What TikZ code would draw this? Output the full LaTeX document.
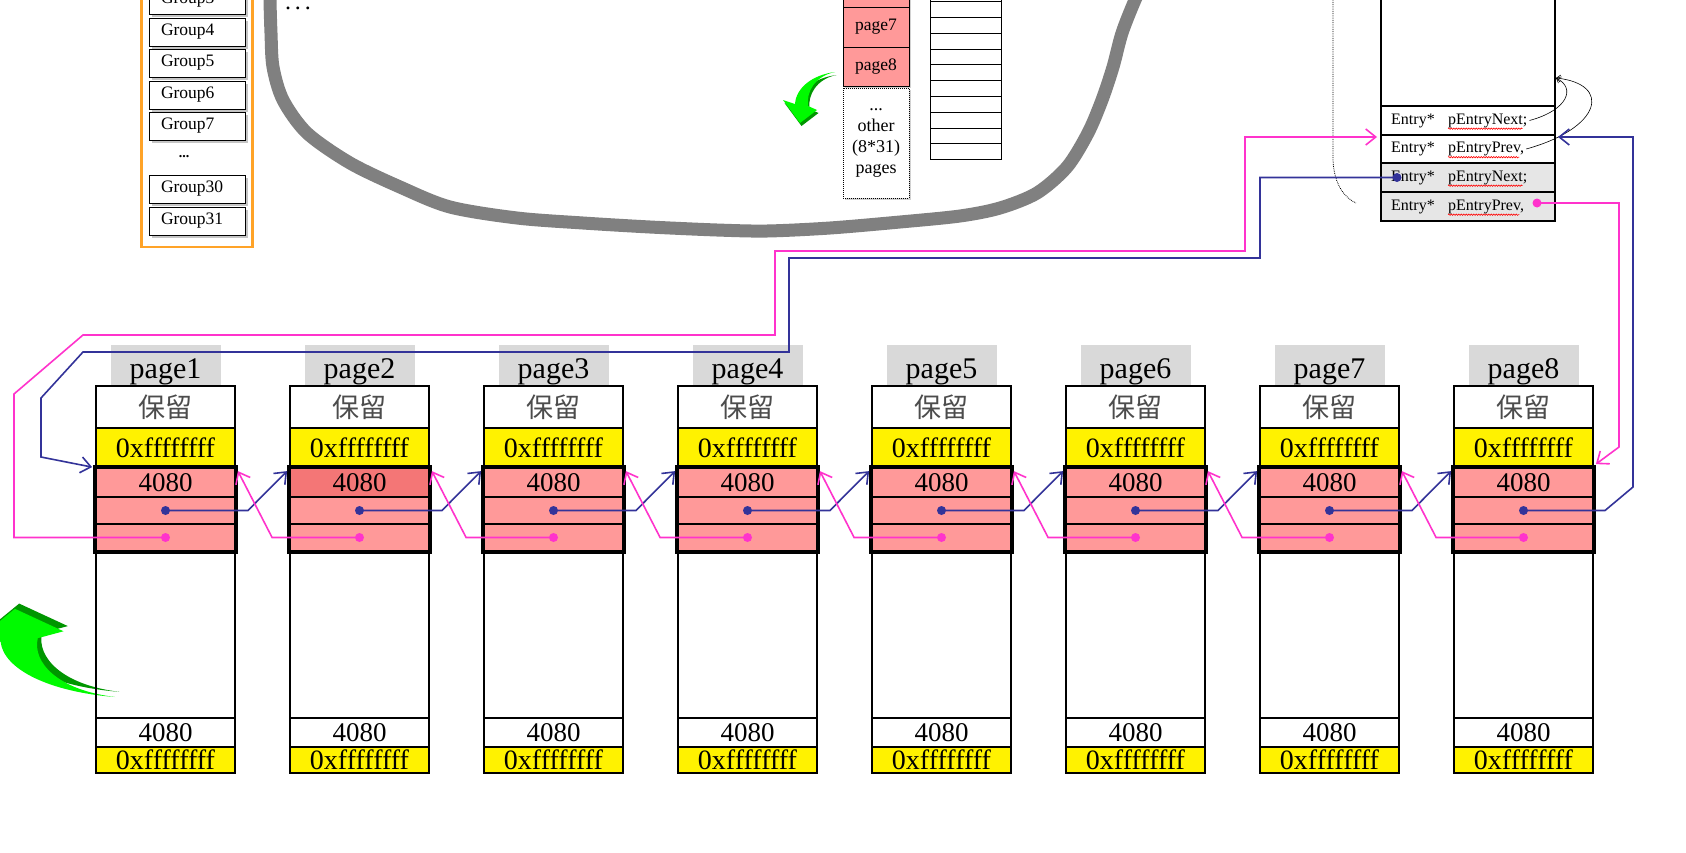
\documentclass[tikz,border=0pt]{standalone}
\usepackage{fontspec}
\setmainfont{Liberation Serif}
\newfontfamily\cjk{Noto Sans CJK SC}
\usetikzlibrary{arrows.meta,shadows,decorations.pathmorphing}
\definecolor{cellpink}{RGB}{255,153,153}
\definecolor{hotpink}{RGB}{244,118,118}
\definecolor{nextblue}{RGB}{51,51,153}
\definecolor{prevpink}{RGB}{255,51,204}
\definecolor{labelgray}{RGB}{217,217,217}
\definecolor{rowgray}{RGB}{230,230,230}
\definecolor{curvegray}{RGB}{128,128,128}
\definecolor{groupor}{RGB}{255,163,40}
\definecolor{arrowgreen}{RGB}{0,250,0}
\definecolor{arrowdark}{RGB}{0,150,0}
\tikzstyle{cell}=[draw,line width=1.8pt,minimum width=139pt,inner sep=0pt,font=\fontsize{27}{27}\selectfont]
\tikzstyle{magic}=[cell,fill=yellow,font=\fontsize{28}{28}\selectfont]
\tikzstyle{pagelabel}=[fill=labelgray,minimum width=110pt,minimum height=41pt,inner sep=0pt,text height=25pt,text depth=0pt,font=\fontsize{30}{30}\selectfont]
\tikzstyle{entryrow}=[draw,line width=2pt,minimum width=174pt,inner sep=0pt]
\tikzstyle{entrytext}=[anchor=west,inner sep=0pt,font=\fontsize{16}{16}\selectfont]
\tikzstyle{groupbox}=[draw,fill=white,line width=1pt,minimum width=96pt,minimum height=28pt,inner sep=0pt,text width=72pt,align=left,font=\fontsize{17.5}{17.5}\selectfont,drop shadow={shadow xshift=2.5pt,shadow yshift=-2.5pt,fill=black!45}]
\tikzstyle{midpage}=[draw,fill=cellpink,line width=1pt,minimum width=66pt,inner sep=0pt,font=\fontsize{17.5}{17.5}\selectfont,drop shadow={shadow xshift=2pt,shadow yshift=-2pt,fill=black!35}]
\tikzstyle{nextptr}=[draw,nextblue,line width=1.6pt,-{Straight Barb[length=10pt,width=16pt]}]
\tikzstyle{prevptr}=[draw,prevpink,line width=1.6pt,-{Straight Barb[length=10pt,width=16pt]}]
\tikzstyle{backptr}=[draw,line width=0.6pt,-{Straight Barb[length=4pt,width=7pt]}]
\tikzstyle{spell}=[draw,red,line width=0.6pt,decorate,decoration={snake,amplitude=0.7pt,segment length=2.5pt}]
\tikzset{greenarrow/.pic={
  \fill[arrowdark,shift={(1.5,3)}] (0,0) .. controls (-20,4) and (-29,20) .. (-27,34) -- (-18,38) -- (-35,51) -- (-52,28) -- (-40,32) .. controls (-39,16) and (-23,3) .. (0,0) -- cycle;
  \fill[arrowgreen] (0,0) .. controls (-20,4) and (-29,20) .. (-27,34) -- (-18,38) -- (-35,51) -- (-52,28) -- (-40,32) .. controls (-39,16) and (-23,3) .. (0,0) -- cycle;
}}
\begin{document}
\begin{tikzpicture}[x=1pt,y=-1pt]
    \useasboundingbox[fill=white] (0,0) rectangle (1686,852);

    % group list
    \node[draw=groupor,line width=2.5pt,minimum width=111pt,minimum height=258pt] (groups) at (197,118) {};
    \foreach \y/\name in {0/3,32/4,63/5,95/6,126/7,189/30,221/31}
        \node[groupbox] (grp\name) at (197,\y) {Group\name};
    \node[font=\fontsize{14}{14}\selectfont\bfseries] (grpdots) at (184,157) {...};
    \node[anchor=base,inner sep=0pt,font=\fontsize{24}{24}\selectfont] (topdots) at (298,9) {.\,.\,.};

    % big gray curve
    \draw[curvegray,line width=13pt] plot[smooth] coordinates {(270,-20) (270,0) (271,33) (273,67) (283,100) (307,133) (350,163) (400,187) (450,207) (517,218) (583,223) (650,227) (717,230) (767,231) (830,228) (900,222) (960,216) (1000,208) (1037,193) (1067,167) (1088,133) (1102,100) (1113,67) (1122,33) (1135,0) (1145,-20)};

    % pages of the group
    \foreach \name/\y/\h in {6/-13/40,7/27/40,8/66.5/39}
        \node[midpage,minimum height=\h pt] (mp\name) at (876,\y) {page\name};
    \node[draw,densely dotted,fill=white,line width=1pt,minimum width=66pt,minimum height=110pt,inner sep=0pt,align=center,font=\fontsize{18}{21}\selectfont,drop shadow={shadow xshift=2pt,shadow yshift=-2pt,fill=black!35}] (mpother) at (876,143) {...\\other\\(8*31)\\pages};
    \foreach \k in {-1,...,9}
        \draw[line width=1pt] (930,{1.7+15.8*\k}) rectangle (1001,{17.5+15.8*\k});
    \pic at (835,72) {greenarrow};
    \pic[xscale=2.86,yscale=-1.73] at (115,697) {greenarrow};

    % entry header
    \node[draw,line width=2pt,minimum width=174pt,minimum height=126pt] (tbody) at (1468,43) {};
    \foreach \n/\y/\h/\tone/\txt in {t1/120.5/29/white/{pEntryNext;},t2/149/28/white/{pEntryPrev,},t3/177.5/29/rowgray/{pEntryNext;},t4/206.5/29/rowgray/{pEntryPrev,}}{
        \node[entryrow,fill=\tone,minimum height=\h pt] (\n) at (1468,\y) {};
        \node[entrytext] (\n-ty) at ([xshift=11pt]\n.west) {Entry*};
        \node[entrytext] (\n-nm) at ([xshift=68pt]\n.west) {\txt};
        \path[spell] ([yshift=-1pt]\n-nm.south west) -- ([xshift=-5pt,yshift=-1pt]\n-nm.south east);
    }
    \path[backptr] ([xshift=2pt]t1-nm.east) .. controls (1568,110) and (1576,88) .. ([yshift=29pt]tbody.south east);
    \path[backptr] ([xshift=2pt]t2-nm.east) .. controls (1602,128) and (1612,84) .. ([yshift=29pt]tbody.south east);
    \draw[densely dotted,line width=0.8pt] (1333,-5) -- (1333,160) .. controls (1334,185) and (1345,198) .. (1356,203);
    \coordinate (hnext) at ([xshift=17pt]t3.west);
    \coordinate (hprev) at ([xshift=-19pt,yshift=3.5pt]t4.east);

    % the eight pages
    \foreach \i/\tone in {1/cellpink,2/hotpink,3/cellpink,4/cellpink,5/cellpink,6/cellpink,7/cellpink,8/cellpink}{
        \pgfmathsetmacro{\cx}{165.5+194*(\i-1)}
        \node[pagelabel] (lbl\i) at (\cx,365.5) {page\i};
        \node[cell,minimum height=42pt,text=black!70] (res\i) at (\cx,407) {\cjk 保留};
        \node[magic,minimum height=40pt] (mag\i) at (\cx,448) {0xffffffff};
        \node[cell,fill=\tone,minimum height=29pt] (len\i) at (\cx,482.5) {4080};
        \node[cell,fill=cellpink,minimum height=27pt] (nxt\i) at (\cx,510.5) {};
        \node[cell,fill=cellpink,minimum height=27pt] (prv\i) at (\cx,537.5) {};
        \node[cell,minimum height=167pt] (body\i) at (\cx,634.5) {};
        \node[cell,minimum height=29pt] (size\i) at (\cx,732.5) {4080};
        \node[magic,minimum height=26pt] (tmag\i) at (\cx,760) {0xffffffff};
        \draw[line width=4pt] (len\i.north west) rectangle (prv\i.south east);
    }

    % Connect pages with next and prev pointers
    \foreach \i/\j in {1/2,2/3,3/4,4/5,5/6,6/7,7/8}{
        \path[nextptr] (nxt\i.center) -- ([xshift=12pt]nxt\i.east) -- ([xshift=-2pt,yshift=-4pt]len\j.north west);
        \path[prevptr] (prv\j.center) -- ([xshift=-17pt]prv\j.west) -- ([xshift=2pt,yshift=-4pt]len\i.north east);
    }
    \path[prevptr] (prv1.center) -- (14,537.5) -- (14,394) -- (83,335) -- (775,335) -- (775,251) -- (1245,251) -- (1245,137) -- ([xshift=-3pt,yshift=12pt]t2.west);
    \path[nextptr] (hnext) -- (1260,177.5) -- (1260,258) -- (789,258) -- (789,352) -- (83,352) -- (41,398) -- (41,457) -- ([xshift=-3pt]len1.north west);
    \path[nextptr] (nxt8.center) -- (1605,510.5) -- (1633,487) -- (1633,137) -- ([xshift=2pt,yshift=12pt]t2.east);
    \path[prevptr] (hprev) -- (1619,203) -- (1619,447) -- ([xshift=2pt,yshift=3pt]len8.north east);
    \foreach \i in {1,...,8}{
        \fill[nextblue] (nxt\i.center) circle (4.5pt);
        \fill[prevpink] (prv\i.center) circle (4.5pt);
    }
    \fill[nextblue] (hnext) circle (4.5pt);
    \fill[prevpink] (hprev) circle (4.5pt);

\end{tikzpicture}
\end{document}
